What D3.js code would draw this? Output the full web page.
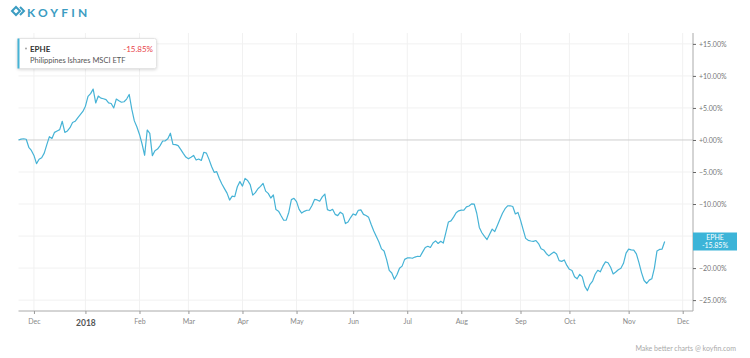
<!DOCTYPE html>
<html><head><meta charset="utf-8">
<script src="https://cdn.jsdelivr.net/npm/d3@7"></script>
<style>
html,body{margin:0;padding:0;background:#fff;}
svg{display:block;font-family:Lato,"Open Sans",sans-serif;}
</style></head>
<body>
<svg id="chart" width="750" height="358"></svg>
<script>
// ---- data ----
const ticker = "EPHE";
const seriesName = "Philippines Ishares MSCI ETF";
const lastChange = "-15.85%";
const startDate = "2017-11-22";
const endCalendar = "2018-12-10";
const marketHolidays = ["2017-11-23","2017-12-25","2018-01-01","2018-01-15","2018-02-19","2018-03-30","2018-05-28","2018-07-04","2018-09-03","2018-11-22","2018-12-05"];
// percent change, one value per trading day from 2017-11-22 to 2018-11-21
const values = [
0.00,0.14,0.19,0.11,-1.14,-1.63,-2.41,-3.70,-3.00,-2.77,-2.06,-0.72,0.52,0.23,1.19,1.41,1.61,2.92,1.19,1.41,
1.91,2.72,2.91,3.44,3.94,4.45,5.28,6.81,7.23,7.94,5.78,6.86,6.53,6.44,6.30,5.78,5.69,5.00,6.39,6.13,
5.89,5.97,6.39,7.11,4.81,2.98,2.03,0.86,-0.63,-2.39,1.56,1.02,-2.44,-1.67,-1.42,-0.88,-0.16,-0.13,0.20,1.05,
-0.69,-0.73,-0.89,-1.47,-2.09,-2.67,-2.94,-2.69,-2.41,-3.13,-2.98,-3.20,-1.92,-2.05,-3.03,-4.13,-5.05,-4.95,-6.02,-6.88,
-7.59,-8.30,-9.38,-8.77,-8.86,-7.30,-6.50,-7.20,-6.00,-6.33,-6.97,-8.61,-8.22,-7.61,-7.25,-6.77,-7.98,-8.34,-9.06,-8.59,
-10.86,-11.11,-11.84,-12.53,-12.52,-11.28,-9.31,-9.11,-9.63,-10.84,-11.41,-11.14,-10.97,-10.94,-10.22,-9.28,-9.36,-9.56,-8.89,-8.44,
-10.88,-11.05,-10.83,-11.61,-11.81,-11.27,-11.56,-13.05,-12.81,-12.11,-11.55,-11.73,-10.97,-10.91,-11.61,-11.80,-12.08,-13.20,-14.20,-15.08,
-15.94,-17.00,-17.33,-18.69,-20.36,-20.77,-21.75,-21.05,-20.03,-19.70,-18.64,-18.42,-18.39,-18.47,-18.28,-18.16,-18.19,-17.47,-16.78,-16.59,
-16.78,-16.08,-15.75,-16.16,-15.81,-16.09,-14.47,-12.80,-12.63,-12.05,-11.36,-11.06,-10.95,-10.97,-10.45,-10.31,-9.97,-10.00,-11.44,-13.66,
-14.48,-15.06,-15.55,-14.72,-13.92,-14.30,-13.34,-12.38,-11.44,-10.73,-10.30,-10.27,-10.39,-11.55,-11.31,-12.52,-13.97,-15.36,-15.67,-15.77,
-15.84,-15.70,-16.17,-16.97,-17.17,-17.72,-18.09,-17.77,-17.50,-17.80,-18.84,-18.95,-18.73,-19.58,-20.19,-20.39,-21.34,-21.67,-20.98,-21.38,
-22.86,-23.52,-22.53,-22.02,-20.97,-20.34,-20.59,-19.70,-19.03,-19.17,-19.88,-20.91,-20.61,-20.25,-20.03,-19.25,-17.66,-17.03,-17.16,-17.19,
-17.77,-19.14,-20.70,-21.94,-22.37,-21.88,-21.67,-20.00,-17.34,-17.08,-17.03,-15.85
];
const yTicks = [15,10,5,0,-5,-10,-15,-20,-25];
// the -15% label sits under the last-value tag in the reference
const yTicksLabelled = [15,10,5,0,-5,-10,-20,-25];

// ---- trading calendar ----
const fmt = d3.timeFormat("%Y-%m-%d");
const parse = d3.timeParse("%Y-%m-%d");
const hol = new Set(marketHolidays);
const tradingDays = d3.timeDay.range(parse(startDate), parse(endCalendar))
  .filter(d => d.getDay() !== 0 && d.getDay() !== 6 && !hol.has(fmt(d)));
const data = values.map((v,i) => ({i, date: tradingDays[i], v}));
// first trading day of each month
const monthTicks = [];
tradingDays.forEach((d,i) => {
  if (i > 0 && d.getMonth() !== tradingDays[i-1].getMonth()) monthTicks.push(i);
});
const tickLabel = i => { const d = tradingDays[i]; return d.getMonth() === 0 ? d.getFullYear() + "" : d3.timeFormat("%b")(d); };

// ---- layout ----
const svg = d3.select("#chart");
const L = 18.5, R = 693, T = 33, B = 311;
const x = d3.scaleLinear().domain([0, 262]).range([L, R]);
const y = d3.scaleLinear().domain([-26.7, 16.7]).range([B, T]);
const lineColor = "#46b3d6";

// logo
const logo = svg.append("g").attr("transform", "translate(11,7)");
logo.append("path").attr("d","M5,0 L9,4 L5,8 L1,4 Z").attr("fill","none").attr("stroke","#3b9cc2").attr("stroke-width",2);
logo.append("path").attr("d","M9,0 L13,4 L9,8").attr("fill","none").attr("stroke","#3b9cc2").attr("stroke-width",2);
svg.append("text").attr("x",27).attr("y",16.5).text("KOYFIN")
  .attr("font-size",12).attr("font-weight",700).attr("letter-spacing","3.2px").attr("fill","#3b9cc2");

// grid
const grid = svg.append("g");
grid.selectAll("line.v").data(monthTicks).join("line")
  .attr("x1", d => x(d)).attr("x2", d => x(d)).attr("y1", T).attr("y2", B)
  .attr("stroke", "#f1f1f1");
grid.selectAll("line.h").data(yTicks).join("line")
  .attr("x1", L).attr("x2", R).attr("y1", d => y(d)).attr("y2", d => y(d))
  .attr("stroke", d => d === 0 ? "#cfcfcf" : "#f1f1f1");

// right axis
const yAxis = d3.axisRight(y).tickValues(yTicks).tickSize(3).tickPadding(3)
  .tickFormat(d => yTicksLabelled.includes(d) ? (d >= 0 ? "+" : "") + d3.format(".2f")(d) + "%" : "");
const ya = svg.append("g").attr("transform", `translate(${R},0)`).call(yAxis);
ya.select(".domain").attr("d", `M0,${T}V${B}`).attr("stroke", "#aaa");
ya.selectAll(".tick line").attr("stroke", "#666");
ya.selectAll(".tick text").attr("font-size", 7).attr("fill", "#777").attr("font-family","Lato,sans-serif");

// bottom axis
const xAxis = d3.axisBottom(x).tickValues(monthTicks).tickSize(3).tickPadding(5)
  .tickFormat(tickLabel);
const xa = svg.append("g").attr("transform", `translate(0,${B})`).call(xAxis);
xa.select(".domain").attr("d", `M${L},0H${R}`).attr("stroke", "#aaa");
xa.selectAll(".tick line").attr("stroke", "#999");
xa.selectAll(".tick text").attr("font-size", 7).attr("fill", "#888").attr("font-family","Lato,sans-serif")
  .filter(i => tradingDays[i].getMonth() === 0)
  .attr("font-size", 8.5).attr("fill", "#555").attr("font-weight", 700).attr("dy", "0.8em");

// line
svg.append("path").datum(data)
  .attr("fill", "none").attr("stroke", lineColor).attr("stroke-width", 1.2).attr("stroke-linejoin","round")
  .attr("d", d3.line().x(d => x(d.i)).y(d => y(d.v)));

// last value label
const last = data[data.length - 1];
const lb = svg.append("g").attr("transform", `translate(${R},${y(last.v)})`);
lb.append("rect").attr("x", 0).attr("y", -9).attr("width", 44).attr("height", 18).attr("fill", "#3cb4d8");
lb.append("text").attr("x", 22).attr("y", -1.5).attr("text-anchor","middle").attr("font-size",7).attr("fill","#fff").text(ticker);
lb.append("text").attr("x", 22).attr("y", 6.5).attr("text-anchor","middle").attr("font-size",7).attr("fill","#fff").text(lastChange);

// legend
const lg = svg.append("g").attr("transform", "translate(17,38)");
lg.append("rect").attr("x",0.5).attr("y",0.5).attr("width",139).attr("height",30).attr("rx",2)
  .attr("fill","#fff").attr("stroke","#e4e4e4").style("filter","drop-shadow(0 1px 1.5px rgba(0,0,0,0.15))");
lg.append("rect").attr("x",0.5).attr("y",0.5).attr("width",2).attr("height",30).attr("fill",lineColor);
lg.append("circle").attr("cx",9).attr("cy",10.5).attr("r",0.9).attr("fill","#999");
lg.append("text").attr("x",13).attr("y",13.5).attr("font-size",8).attr("font-weight",700).attr("fill","#333").text(ticker);
lg.append("text").attr("x",136).attr("y",13.5).attr("text-anchor","end").attr("font-size",8).attr("fill","#e8424a").text(lastChange);
lg.append("text").attr("x",13).attr("y",24.5).attr("font-size",7.5).attr("fill","#555").text(seriesName);

// footer
svg.append("text").attr("x",736).attr("y",351).attr("text-anchor","end").attr("font-size",7).attr("fill","#aaa")
  .text("Make better charts @ koyfin.com");
</script>
</body></html>
